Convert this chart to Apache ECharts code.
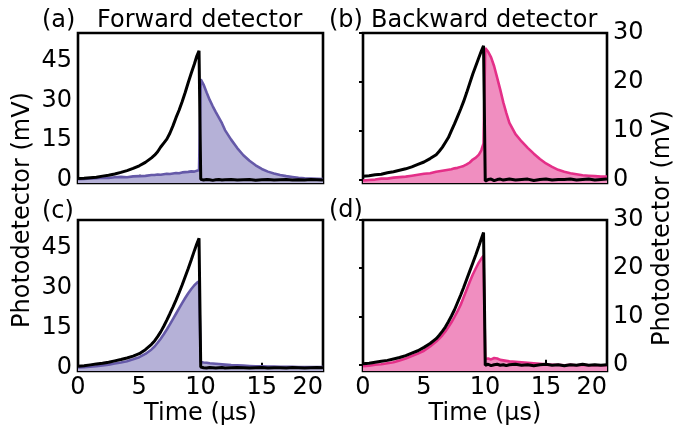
<!DOCTYPE html>
<html>
<head>
<meta charset="utf-8">
<script src="https://cdn.jsdelivr.net/npm/echarts@6/dist/echarts.min.js"></script>
<style>
  html, body { margin: 0; padding: 0; background: #fff; }
  #chart { width: 678px; height: 430px; }
</style>
</head>
<body>
<div id="chart"></div>
<script>
// 时间轴 (μs)
const time = [0, 0.5, 1, 1.5, 2, 2.5, 3, 3.5, 4, 4.5, 5, 5.5, 6,
  6.25, 6.5, 6.75, 7, 7.25, 7.5, 7.75, 8, 8.25, 8.5, 8.75, 9, 9.25, 9.5,
  9.7, 9.88,
  10.02,
  10.25, 10.5, 10.75, 11, 11.25, 11.5, 11.75, 12,
  12.5, 13, 13.5, 14, 14.5, 15, 15.5, 16, 16.5, 17, 17.5, 18, 18.5, 19, 19.5, 20];

// (a) 前向探测器
const aRef = [0.5, 0.6, 0.8, 1.0, 1.4, 1.7, 2.2, 2.8, 3.5, 4.3, 5.3, 6.6, 8.3,
  9.3, 10.6, 12.4, 13.9, 15.4, 17.6, 20.4, 23.5, 26.3, 29.5, 33, 36.8, 40.4, 43.8,
  46.8, 48.8,
  0.2,
  -0.1, 0.1, 0, -0.2, 0, 0.1, -0.1, 0,
  0.1, -0.1, 0, 0.1, -0.2, 0, 0.1, -0.1, 0, 0.1, -0.1, 0, -0.1, 0.1, 0, -0.1];
const aSig = [0.2, 0.3, 0.5, 0.6, 0.8, 0.7, 1.0, 1.1, 1.0, 1.3, 1.4, 1.5, 1.8,
  1.8, 2.0, 1.9, 2.1, 2.3, 2.2, 2.4, 2.6, 2.5, 2.8, 2.9, 3.0, 3.2, 3.1,
  3.4, 3.6,
  38,
  36, 33, 30.2, 27.8, 25.6, 23.5, 21.4, 18.8,
  15.2, 12, 9.3, 7.2, 5.5, 4.1, 3.1, 2.4, 1.8, 1.4, 1.1, 0.8, 0.6, 0.5, 0.4, 0.3];

// (b) 后向探测器
const bRef = [0.7, 0.8, 1.0, 1.1, 1.4, 1.6, 1.9, 2.2, 2.6, 3.1, 3.6, 4.3, 5.1,
  5.8, 6.6, 7.6, 8.6, 10.0, 11.4, 12.9, 14.4, 16.0, 17.8, 19.7, 21.6, 23.3, 25.0,
  26.3, 27.4,
  -0.3,
  0, 0.1, -0.2, 0, 0.1, -0.1, 0, 0.1,
  -0.1, 0, 0.1, -0.2, 0, 0.1, -0.1, 0, 0, 0.1, -0.1, 0, 0.1, -0.1, 0, 0.1];
const bSig = [-0.2, -0.1, 0, 0.2, 0.2, 0.4, 0.5, 0.6, 0.8, 1.0, 1.2, 1.3, 1.6,
  1.7, 1.8, 1.9, 2.0, 2.1, 2.3, 2.4, 2.6, 2.8, 3.1, 3.5, 4.1, 4.5, 5.1,
  6.0, 7.4,
  26.9,
  26.2, 25.0, 23.2, 20.8, 18.4, 15.8, 13.6, 11.6,
  9.3, 7.8, 6.5, 5.3, 4.2, 3.3, 2.6, 2.0, 1.6, 1.3, 1.1, 0.9, 0.8, 0.7, 0.6, 0.6];

// (c)
const cRef = [0.6, 0.8, 1.1, 1.4, 1.7, 2.1, 2.6, 3.1, 3.7, 4.4, 5.3, 6.8, 8.8,
  10.1, 11.7, 13.5, 15.6, 17.9, 20.3, 22.8, 25.4, 28.2, 31.1, 34.2, 37.3, 40.6, 44.0,
  46.6, 48.6,
  0.3,
  0, -0.1, 0.1, 0, -0.1, 0, 0.1, -0.1,
  0, 0.1, 0, -0.1, 0, 0.1, -0.1, 0, 0, -0.1, 0.1, 0, -0.1, 0, 0.1, 0];
const cSig = [0.1, 0.2, 0.4, 0.6, 0.9, 1.2, 1.6, 2.0, 2.5, 3.2, 4.0, 5.2, 6.9,
  8.0, 9.4, 10.9, 12.6, 14.4, 16.3, 18.3, 20.3, 22.3, 24.3, 26.2, 28.0, 29.6, 31.0,
  31.9, 32.5,
  2.2,
  2.0, 1.9, 1.7, 1.6, 1.5, 1.4, 1.3, 1.2,
  1.0, 0.9, 0.8, 0.7, 0.6, 0.6, 0.5, 0.5, 0.4, 0.4, 0.4, 0.3, 0.3, 0.3, 0.3, 0.3];

// (d)
const dRef = [0.2, 0.3, 0.5, 0.7, 0.9, 1.2, 1.5, 1.9, 2.4, 2.9, 3.6, 4.4, 5.4,
  6.1, 6.9, 7.8, 8.9, 10.1, 11.4, 12.9, 14.4, 16.0, 17.7, 19.4, 21.1, 22.8, 24.6,
  26.1, 27.4,
  -0.1,
  0.1, -0.2, 0, 0.1, -0.1, 0, -0.2, 0,
  0.1, -0.1, 0, -0.2, 0, 0.1, -0.1, 0, -0.2, 0, -0.1, 0.1, -0.1, 0, -0.1, 0];
const dSig = [-0.3, -0.2, 0, 0.1, 0.3, 0.5, 0.9, 1.3, 1.8, 2.3, 2.9, 3.8, 4.8,
  5.4, 6.1, 6.9, 7.8, 8.8, 9.9, 11.1, 12.4, 14.0, 15.6, 17.2, 18.7, 20.0, 21.2,
  22.0, 22.6,
  1.2,
  1.3, 1.1, 1.4, 1.3, 1.0, 0.9, 0.8, 0.7,
  0.6, 0.5, 0.4, 0.3, 0.2, 0.1, 0, 0, -0.1, 0, -0.1, 0, -0.1, -0.1, -0.1, -0.1];

// 刻度
const leftTicks = [0, 15, 30, 45];
const rightTicks = [0, 10, 20, 30];

const FONT = '"DejaVu Sans", "Liberation Sans", sans-serif';
const purpleLine = '#6559a8';
const purpleFill = '#b5b1d7';
const pinkLine = '#e42f88';
const pinkFill = '#f08ec0';

function pairs(vals) {
    return time.map((t, i) => [t, vals[i]]);
}

function makeX(idx, showLabel) {
    return {
        type: 'value', gridIndex: idx, min: 0, max: 20, interval: 5,
        axisLine: { show: false },
        axisTick: { show: true, inside: true, length: 5, lineStyle: { color: '#000', width: 2 } },
        axisLabel: {
            show: showLabel, color: '#000', fontFamily: FONT, fontSize: 24, margin: 5,
            alignMaxLabel: 'right'
        },
        splitLine: { show: false },
        name: showLabel ? 'Time (μs)' : '',
        nameLocation: 'middle', nameGap: 31,
        nameTextStyle: { color: '#000', fontFamily: FONT, fontSize: 24 }
    };
}

function makeY(idx, right, min, max, ticks) {
    return {
        type: 'value', gridIndex: idx, min: min, max: max,
        position: right ? 'right' : 'left',
        axisLine: { show: false },
        axisTick: { show: right, inside: true, length: 4, customValues: ticks, lineStyle: { color: '#000', width: 2 } },
        axisLabel: { color: '#000', fontFamily: FONT, fontSize: 24, margin: 6, customValues: ticks },
        splitLine: { show: false }
    };
}

function sigSeries(idx, vals, line, fill) {
    return {
        type: 'line', xAxisIndex: idx, yAxisIndex: idx, data: pairs(vals),
        showSymbol: false, z: 2,
        lineStyle: { color: line, width: 2.6 },
        areaStyle: { color: fill, opacity: 1, origin: 'start' }
    };
}

function refSeries(idx, vals) {
    return {
        type: 'line', xAxisIndex: idx, yAxisIndex: idx, data: pairs(vals),
        showSymbol: false, z: 3,
        lineStyle: { color: '#000', width: 3 }
    };
}

function label(text, x, y, align, rot) {
    return {
        type: 'text', x: x, y: y, rotation: rot || 0,
        style: {
            text: text, fill: '#000', font: '24px ' + FONT,
            textAlign: align, textVerticalAlign: 'middle'
        }
    };
}

const gridStyle = { show: true, borderColor: '#000', borderWidth: 2.6, backgroundColor: 'transparent' };

var myChart = echarts.init(document.getElementById('chart'));
var option = {
    animation: false,
    backgroundColor: '#fff',
    grid: [
        Object.assign({ left: 78, top: 33, width: 245, height: 150 }, gridStyle),
        Object.assign({ left: 363, top: 33, width: 244, height: 150 }, gridStyle),
        Object.assign({ left: 78, top: 220, width: 245, height: 151 }, gridStyle),
        Object.assign({ left: 363, top: 220, width: 244, height: 151 }, gridStyle)
    ],
    xAxis: [makeX(0, false), makeX(1, false), makeX(2, true), makeX(3, true)],
    yAxis: [
        makeY(0, false, -1.2, 55.5, leftTicks),
        makeY(1, true, -0.7, 30, rightTicks),
        makeY(2, false, -1.2, 55.5, leftTicks),
        makeY(3, true, -1.3, 30, rightTicks)
    ],
    series: [
        sigSeries(0, aSig, purpleLine, purpleFill), refSeries(0, aRef),
        sigSeries(1, bSig, pinkLine, pinkFill), refSeries(1, bRef),
        sigSeries(2, cSig, purpleLine, purpleFill), refSeries(2, cRef),
        sigSeries(3, dSig, pinkLine, pinkFill), refSeries(3, dRef)
    ],
    graphic: [
        label('(a)', 42, 21, 'left'),
        label('Forward detector', 97, 21, 'left'),
        label('(b)', 329, 21, 'left'),
        label('Backward detector', 371, 21, 'left'),
        label('(c)', 42, 212, 'left'),
        label('(d)', 329, 211, 'left'),
        label('Photodetector (mV)', 23, 210, 'center', Math.PI / 2),
        label('Photodetector (mV)', 663, 228, 'center', Math.PI / 2)
    ]
};
myChart.setOption(option);
</script>
</body>
</html>
